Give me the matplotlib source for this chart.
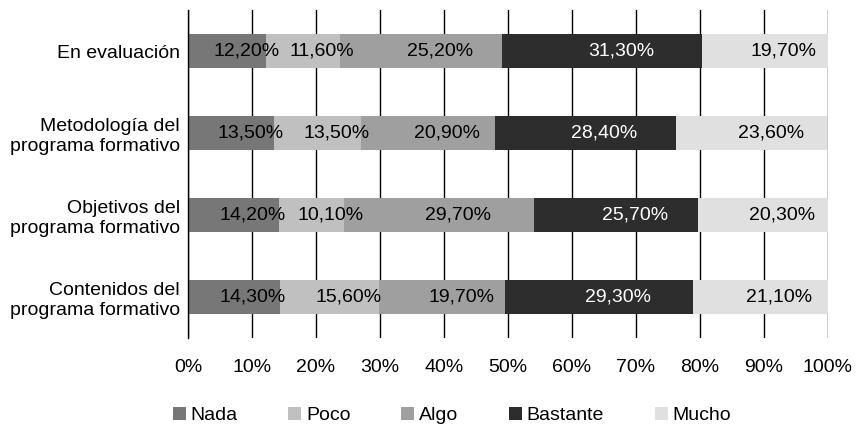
import numpy as np
import matplotlib
matplotlib.use("Agg")
import matplotlib.pyplot as plt

plt.rcParams['font.family'] = ['Liberation Sans', 'DejaVu Sans']

# categories from top to bottom
categorias = ['En evaluación',
              'Metodología del\nprograma formativo',
              'Objetivos del\nprograma formativo',
              'Contenidos del\nprograma formativo']
respuestas = ['Nada', 'Poco', 'Algo', 'Bastante', 'Mucho']

nada     = [12.2, 13.5, 14.2, 14.3]
poco     = [11.6, 13.5, 10.1, 15.6]
algo     = [25.2, 20.9, 29.7, 19.7]
bastante = [31.3, 28.4, 25.7, 29.3]
mucho    = [19.7, 23.6, 20.3, 21.1]

colores = ['#777777', '#c0c0c0', '#9f9f9f', '#2d2d2d', '#e0e0e0']
txt_col = ['black', 'black', 'black', 'white', 'black']

series = [nada, poco, algo, bastante, mucho]

fig = plt.figure(figsize=(8.64, 4.24), dpi=100)
ax = fig.add_axes([188/864, 1-338/424, 640/864, 328/424])

y = np.arange(len(categorias))
izq = np.zeros(len(categorias))
for s, nombre, c, tc in zip(series, respuestas, colores, txt_col):
    vals = np.array(s)
    ax.barh(y, vals, left=izq, height=0.415, color=c, label=nombre, zorder=3)
    for yi, l, v in zip(y, izq, vals):
        ax.annotate('{:.2f}%'.format(v).replace('.', ','), (l + v/2, yi),
                    xytext=(13.7, 0), textcoords='offset points',
                    ha='center', va='center', fontsize=14, color=tc, zorder=4)
    izq = izq + vals

ax.set_xlim(0, 100)
ax.set_ylim(len(categorias) - 0.5, -0.5)
ax.set_xticks(np.arange(0, 101, 10))
ax.set_xticklabels(['{}%'.format(t) for t in range(0, 101, 10)])
ax.set_yticks(y)
ax.set_yticklabels(categorias, multialignment='right')
ax.tick_params(axis='x', length=0, pad=15, labelsize=14)
ax.tick_params(axis='y', length=0, pad=6, labelsize=14)
ax.grid(axis='x', color='black', linewidth=1.0, zorder=0)
for lado in ['top', 'right', 'bottom']:
    ax.spines[lado].set_visible(False)
ax.spines['left'].set_linewidth(1.0)
ax.spines['left'].set_zorder(5)

fig.legend(loc='center', bbox_to_anchor=(0.523, 0.02), ncol=5, frameon=False,
           fontsize=14, handlelength=0.67, handleheight=0.67, handletextpad=0.25,
           columnspacing=2.6)

fig.savefig('out.png', dpi=100)
